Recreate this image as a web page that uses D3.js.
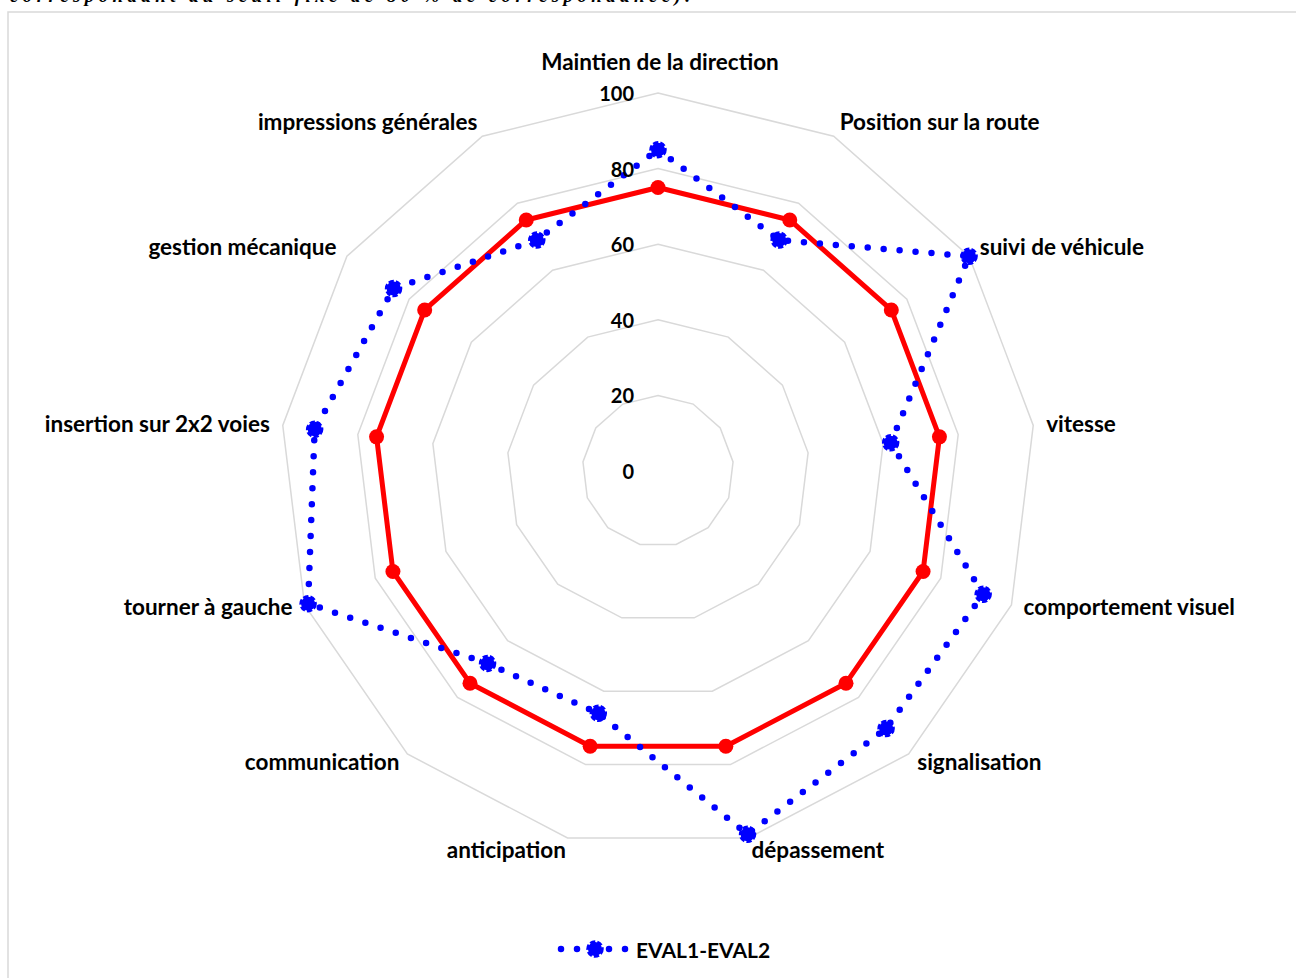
<!DOCTYPE html>
<html>
<head>
<meta charset="utf-8">
<script src="https://cdn.jsdelivr.net/npm/d3@7"></script>
<style>
  body { margin: 0; background: #fff; }
  svg { display: block; }
  .lbl { font-family: Lato, "Open Sans", sans-serif; font-weight: bold; font-size: 20px; fill: #000; }
  .cat { font-size: 22.5px; }
  .grid { fill: none; stroke: #d9d9d9; stroke-width: 1.5; }
</style>
</head>
<body>
<svg id="chart" width="1296" height="978"></svg>
<script>
// axes of the radar, clockwise from the top
var categories = [
  "Maintien de la direction", "Position sur la route", "suivi de véhicule", "vitesse",
  "comportement visuel", "signalisation", "dépassement", "anticipation", "communication",
  "tourner à gauche", "insertion sur 2x2 voies", "gestion mécanique", "impressions générales"
];
var evalValues = [85, 69, 100, 62, 92, 91, 99, 66, 68, 99, 91.5, 85, 69];
var seuilValues = [75, 75, 75, 75, 75, 75, 75, 75, 75, 75, 75, 75, 75];
var ticks = [0, 20, 40, 60, 80, 100];
var seriesName = "EVAL1-EVAL2";
var captionText = "correspondant au seuil fixé de 80 % de correspondance).";

;(function (d3) {
  'use strict';

  var svg = d3.select("#chart");
  var cx = 658, cy = 471, R = 378;
  var n = categories.length;
  var step = 2 * Math.PI / n;

  var r = d3.scaleLinear().domain([0, 100]).range([0, R]);

  function px(i, v) { return cx + r(v) * Math.sin(i * step); }
  function py(i, v) { return cy - r(v) * Math.cos(i * step); }

  // caption from the page above, mostly cut off
  svg.append("text")
    .attr("x", 10).attr("y", 2)
    .attr("textLength", 680)
    .style("font-family", "'Liberation Serif', serif")
    .style("font-style", "italic").style("font-weight", "bold")
    .style("font-size", "19px")
    .text(captionText);

  // chart frame
  svg.append("rect")
    .attr("x", 8).attr("y", 12)
    .attr("width", 1300).attr("height", 980)
    .attr("fill", "none").attr("stroke", "#d9d9d9").attr("stroke-width", 1.5);

  var radial = d3.lineRadial()
    .angle(function (d, i) { return i * step; })
    .radius(function (d) { return r(d); })
    .curve(d3.curveLinearClosed);

  var g = svg.append("g").attr("transform", "translate(" + cx + "," + cy + ")");

  // grid rings
  g.selectAll(".grid").data(ticks.slice(1)).enter().append("path")
    .attr("class", "grid")
    .attr("d", function (t) { return radial(categories.map(function () { return t; })); });

  // tick labels
  svg.selectAll(".tick").data(ticks).enter().append("text")
    .attr("class", "lbl tick")
    .attr("x", cx - 24).attr("y", function (t) { return cy - r(t); })
    .attr("text-anchor", "end")
    .attr("dominant-baseline", "central")
    .text(function (t) { return t; });

  // category labels
  svg.selectAll(".cat").data(categories).enter().append("text")
    .attr("class", "lbl cat")
    .attr("x", function (d, i) {
      var s = Math.sin(i * step);
      return px(i, 100) + (s > 0 ? 13 * s : 15 * s + 2);
    })
    .attr("y", function (d, i) {
      var c = Math.cos(i * step);
      var y = py(i, 100) - 17 * c;
      if (i === 0) y -= 15;
      else if (c < 0) y -= 5;
      return y;
    })
    .attr("text-anchor", function (d, i) {
      var s = Math.sin(i * step);
      return Math.abs(s) < 0.01 ? "middle" : (s > 0 ? "start" : "end");
    })
    .attr("dominant-baseline", "central")
    .text(function (d) { return d; });

  // threshold series (red)
  g.append("path")
    .attr("d", radial(seuilValues))
    .attr("fill", "none").attr("stroke", "#ff0000").attr("stroke-width", 5)
    .attr("stroke-linejoin", "round");
  svg.selectAll(".seuil").data(seuilValues).enter().append("circle")
    .attr("class", "seuil")
    .attr("cx", function (d, i) { return px(i, d); })
    .attr("cy", function (d, i) { return py(i, d); })
    .attr("r", 7.5).attr("fill", "#ff0000");

  // EVAL1-EVAL2 series (blue dotted)
  function blueMarker(sel) {
    sel.attr("r", 7).attr("fill", "#0000ff")
      .attr("stroke", "#0000ff").attr("stroke-width", 3.5)
      .attr("stroke-dasharray", "5,2");
  }

  g.append("path")
    .attr("d", radial(evalValues))
    .attr("fill", "none").attr("stroke", "#0000ff").attr("stroke-width", 6.5)
    .attr("stroke-linecap", "round").attr("stroke-dasharray", "0,16");
  svg.selectAll(".eval").data(evalValues).enter().append("circle")
    .attr("class", "eval")
    .attr("cx", function (d, i) { return px(i, d); })
    .attr("cy", function (d, i) { return py(i, d); })
    .call(blueMarker);

  // legend
  var ly = 949;
  svg.append("line")
    .attr("x1", 561).attr("x2", 627).attr("y1", ly).attr("y2", ly)
    .attr("stroke", "#0000ff").attr("stroke-width", 6.5)
    .attr("stroke-linecap", "round").attr("stroke-dasharray", "0,16");
  svg.append("circle").attr("cx", 595).attr("cy", ly).call(blueMarker);
  svg.append("text")
    .attr("class", "lbl")
    .attr("x", 636).attr("y", ly)
    .style("font-size", "21px")
    .attr("dominant-baseline", "central")
    .text(seriesName);

})(window.d3);
</script>
</body>
</html>
